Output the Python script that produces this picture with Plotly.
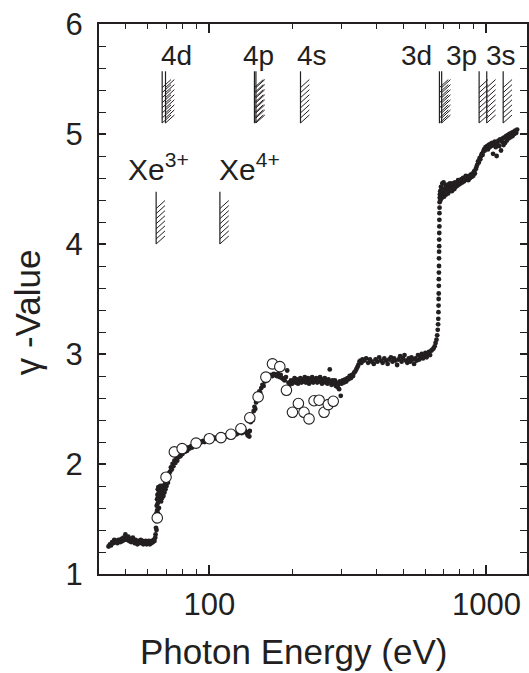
import math
import plotly.graph_objects as go

# ---------------- data ----------------
# small filled dots: pre-4d plateau
pre4d_E = [43.3, 43.8, 44.2, 44.6, 45.0, 45.4, 45.8, 46.2, 46.6, 47.0, 47.4, 47.8, 48.2, 48.6, 49.0, 49.4,
           49.8, 50.2, 50.6, 51.0, 51.4, 51.8, 52.2, 52.6, 53.0, 53.4, 53.8, 54.2, 54.6, 55.0, 55.4, 55.8,
           56.2, 56.6, 57.0, 57.4, 57.8, 58.2, 58.6, 59.0, 59.4, 59.8, 60.2, 60.6, 61.0, 61.4, 61.8, 62.2,
           62.6, 63.0, 63.4, 63.8]
pre4d_G = [1.25, 1.27, 1.26, 1.29, 1.28, 1.31, 1.29, 1.30, 1.28, 1.31, 1.30, 1.29, 1.32, 1.30, 1.33, 1.31,
           1.36, 1.33, 1.31, 1.34, 1.30, 1.32, 1.29, 1.31, 1.33, 1.30, 1.28, 1.31, 1.29, 1.27, 1.30, 1.28,
           1.29, 1.31, 1.28, 1.30, 1.27, 1.29, 1.28, 1.30, 1.27, 1.29, 1.28, 1.30, 1.27, 1.29, 1.28, 1.30,
           1.29, 1.31, 1.30, 1.33]
# 4d edge
edge4d_E = [64.0, 64.2, 64.3, 64.4, 64.5, 64.6, 64.7, 64.8, 64.9, 65.0, 65.1, 65.2, 65.3, 65.4, 65.5, 65.6,
            65.7, 65.8, 65.9, 66.0, 66.2, 66.4, 66.6, 66.8, 67.0, 67.2, 67.4, 67.6, 67.8, 68.0, 68.3, 68.6,
            68.9, 69.2, 69.5, 69.8, 70.1, 70.5, 70.9, 71.3, 71.7]
edge4d_G = [1.36, 1.42, 1.48, 1.55, 1.40, 1.62, 1.50, 1.68, 1.58, 1.72, 1.64, 1.77, 1.55, 1.70, 1.79, 1.66,
            1.74, 1.60, 1.78, 1.70, 1.75, 1.68, 1.80, 1.72, 1.66, 1.78, 1.73, 1.69, 1.80, 1.75, 1.71, 1.78,
            1.74, 1.82, 1.77, 1.84, 1.80, 1.86, 1.83, 1.90, 1.92]
# between 4d and 4p
mid_E = [72.2, 72.7, 73.2, 73.7, 74.2, 74.8, 75.4, 76.0, 76.6, 77.2, 77.9, 78.6, 79.3, 80.0, 80.8, 81.6,
         82.4, 83.2, 84.0, 84.9, 85.8, 86.7, 87.6, 88.6, 89.6, 90.6, 91.7, 92.8, 93.9, 95.0, 96.2, 97.4,
         98.6, 99.8, 101.0, 102.3, 103.6, 105.0, 106.4, 107.8, 109.2, 110.7, 112.2, 113.7, 115.3, 116.9,
         118.5, 120.2, 121.9, 123.6, 125.4, 127.2, 129.0, 130.9, 132.8, 134.7, 136.4, 137.6, 138.6, 139.4]
mid_G = [1.93, 1.97, 1.95, 2.00, 1.98, 2.03, 2.01, 2.05, 2.03, 2.06, 2.08, 2.07, 2.10, 2.09, 2.12, 2.11,
         2.13, 2.12, 2.15, 2.14, 2.16, 2.15, 2.17, 2.17, 2.18, 2.19, 2.18, 2.20, 2.20, 2.21, 2.20, 2.22,
         2.21, 2.22, 2.23, 2.22, 2.23, 2.24, 2.23, 2.24, 2.25, 2.24, 2.25, 2.26, 2.25, 2.26,
         2.27, 2.26, 2.27, 2.28, 2.27, 2.28, 2.29, 2.28, 2.29, 2.30, 2.28, 2.26, 2.29, 2.25]
# 4p edge and 4s region
edge4p_E = [140, 141, 142, 143.5, 144.5, 145.5, 146.5, 147.5, 148.5, 149.5, 150.5, 151.5, 152.5, 154, 155.5,
            157, 158.5, 160, 161.5, 163, 165, 167, 169, 171, 173, 175, 177, 179, 181, 183, 185, 187, 189,
            191, 193, 195, 197, 199]
edge4p_G = [2.30, 2.38, 2.44, 2.40, 2.48, 2.52, 2.50, 2.56, 2.60, 2.58, 2.63, 2.66, 2.65, 2.69, 2.72,
            2.71, 2.75, 2.77, 2.76, 2.79, 2.80, 2.81, 2.80, 2.82, 2.81, 2.80, 2.82, 2.79, 2.81, 2.78, 2.77,
            2.76, 2.79, 2.85, 2.74, 2.72, 2.76, 2.73]
plat4s_E = [201, 203, 205, 207, 209, 211, 213, 215, 217, 219, 221, 223, 225, 227, 229, 231, 233, 235, 237,
            239, 241, 243, 245, 247, 249, 251, 253, 255, 257, 259, 261, 263, 265, 267, 269, 272, 274, 276,
            278, 280, 282, 284, 286, 288, 290, 292, 294, 296, 298]
plat4s_G = [2.75, 2.78, 2.74, 2.77, 2.73, 2.76, 2.78, 2.74, 2.77, 2.75, 2.79, 2.74, 2.76, 2.78, 2.73, 2.77,
            2.75, 2.79, 2.74, 2.77, 2.76, 2.78, 2.74, 2.77, 2.75, 2.79, 2.76, 2.73, 2.77, 2.75, 2.78, 2.74,
            2.76, 2.73, 2.77, 2.86, 2.75, 2.72, 2.76, 2.74, 2.73, 2.76, 2.71, 2.74, 2.70, 2.72, 2.68, 2.75,
            2.62]
rise_E = [300, 303, 306, 309, 312, 315, 318, 321, 324, 327, 330, 333, 336, 339, 342, 345, 348, 351, 354, 357]
rise_G = [2.73, 2.76, 2.74, 2.77, 2.75, 2.78, 2.77, 2.80, 2.78, 2.81, 2.80, 2.83, 2.84, 2.86, 2.88, 2.90,
          2.93, 2.94, 2.92, 2.95]
pre3d_E = [362, 368, 374, 380, 386, 392, 398, 404, 410, 416, 422, 428, 434, 440, 446, 452, 458, 464, 470,
           476, 482, 488, 494, 500, 506, 512, 518, 524, 530, 536, 542, 548, 554, 560, 566, 572, 578, 584,
           590, 596, 602, 608, 614, 620, 626, 632, 638, 644, 650, 655]
pre3d_G = [2.94, 2.96, 2.92, 2.95, 2.93, 2.91, 2.95, 2.93, 2.97, 2.94, 2.92, 2.96, 2.94, 2.91, 2.95, 2.97,
           2.93, 2.96, 2.94, 2.90, 2.95, 2.98, 2.93, 2.96, 2.99, 2.94, 2.92, 2.96, 2.93, 2.97, 2.95, 2.91,
           2.96, 2.94, 2.99, 2.95, 2.97, 3.00, 2.96, 2.98, 3.01, 2.97, 3.00, 3.02, 2.99, 3.03, 3.04, 3.05,
           3.07, 3.10]
edge3d_E = [660, 664, 667, 669, 670, 671, 671.5, 672, 672.5, 673, 673, 673.5, 674, 674, 674.5, 675, 675,
            675.5, 676, 676, 676.5, 677, 677.5, 678, 679]
edge3d_G = [3.13, 3.17, 3.22, 3.27, 3.32, 3.38, 3.44, 3.50, 3.55, 3.62, 3.68, 3.74, 3.80, 3.87, 3.93, 3.98,
            4.04, 4.10, 4.16, 4.22, 4.28, 4.33, 4.38, 4.42, 4.45]
plat3d_E = [681, 683, 685, 687, 689, 691, 693, 695, 697, 700, 703, 706, 709, 712, 715, 718, 721, 724, 727,
            730, 734, 738, 742, 746, 750, 754, 758, 762, 766, 770, 775, 780, 785, 790, 795, 800, 806, 812,
            818, 824, 830, 836, 842, 848, 854, 860, 866, 872, 878, 884, 890, 896, 902, 908, 914]
plat3d_G = [4.48, 4.40, 4.52, 4.44, 4.50, 4.42, 4.55, 4.46, 4.49, 4.56, 4.43, 4.50, 4.47, 4.53, 4.45, 4.51,
            4.48, 4.54, 4.46, 4.52, 4.49, 4.55, 4.50, 4.53, 4.48, 4.55, 4.51, 4.54, 4.50, 4.56, 4.52, 4.55,
            4.53, 4.58, 4.54, 4.57, 4.55, 4.59, 4.56, 4.60, 4.57, 4.58, 4.62, 4.59, 4.61, 4.58, 4.62, 4.60,
            4.63, 4.61, 4.64, 4.62, 4.66, 4.64, 4.68]
high_E = [920, 926, 932, 938, 944, 950, 956, 962, 968, 974, 980, 986, 992, 998, 1005, 1012, 1019, 1026,
          1033, 1040, 1048, 1056, 1064, 1072, 1080, 1088, 1096, 1104, 1112, 1120, 1128, 1136, 1144, 1152,
          1160, 1168, 1176, 1184, 1192, 1200, 1210, 1220, 1230, 1240, 1250, 1260, 1270, 1280, 1290]
high_G = [4.70, 4.72, 4.75, 4.74, 4.78, 4.77, 4.80, 4.82, 4.81, 4.84, 4.86, 4.85, 4.88, 4.87, 4.89, 4.86,
          4.90, 4.88, 4.91, 4.89, 4.92, 4.82, 4.90, 4.93, 4.88, 4.80, 4.91, 4.94, 4.89, 4.95, 4.85, 4.93,
          4.96, 4.90, 4.97, 4.92, 4.98, 4.94, 4.99, 4.96, 5.00, 4.97, 5.01, 4.98, 5.02, 5.00, 5.03, 5.01,
          5.04]

# open circles
circ_E = [64.9, 69.8, 74.8, 79.8, 89.6, 100.0, 110.2, 119.7, 130.0, 140.0, 150.0, 160.0, 169.0, 179.6,
          189.8, 199.5, 209.6, 219.6, 229.0, 238.7, 249.0, 259.4, 268.6, 280.0]
circ_G = [1.51, 1.88, 2.11, 2.14, 2.19, 2.23, 2.24, 2.27, 2.32, 2.42, 2.61, 2.79, 2.91, 2.885,
          2.67, 2.47, 2.55, 2.47, 2.41, 2.575, 2.58, 2.47, 2.54, 2.57]

# edge markers
shell_edge_E = [67.6, 69.5, 145.5, 147.3, 213.3, 676.4, 689.0, 940.6, 1002.0, 1148.7]
shell_edge_y = [5.10, 5.57]
ion_edge_E = [64.3, 109.2]
ion_edge_y = [4.00, 4.475]
shell_labels = ["4d", "4p", "4s", "3d", "3p", "3s"]
shell_label_E = [76.3, 150.3, 235.3, 561.0, 811.0, 1130.0]
shell_label_y = 5.71
ion_labels = ["Xe<sup>3+</sup>", "Xe<sup>4+</sup>"]
ion_label_E = [65.8, 139.3]
ion_label_y = 4.70

x_ticks = [100, 1000]
x_minor = [50, 60, 70, 80, 90, 200, 300, 400, 500, 600, 700, 800, 900]
y_ticks = [1, 2, 3, 4, 5, 6]
x_title = "Photon Energy (eV)"
y_title = "γ -Value"

# ---------------- figure ----------------
INK = "#231f20"
FONT = "Liberation Sans, Arial, Helvetica, sans-serif"

dots_E = pre4d_E + edge4d_E + mid_E + edge4p_E + plat4s_E + rise_E + pre3d_E + edge3d_E + plat3d_E + high_E
dots_G = pre4d_G + edge4d_G + mid_G + edge4p_G + plat4s_G + rise_G + pre3d_G + edge3d_G + plat3d_G + high_G

fig = go.Figure()
fig.add_trace(go.Scatter(x=dots_E, y=dots_G, mode="markers",
                         marker=dict(size=4.8, color=INK, line=dict(width=0)),
                         showlegend=False, hoverinfo="skip"))
fig.add_trace(go.Scatter(x=circ_E, y=circ_G, mode="markers",
                         marker=dict(size=10.5, color="white", line=dict(color=INK, width=1.1)),
                         showlegend=False, hoverinfo="skip"))

HATCH_W = 0.032   # decades
HATCH_RISE = 0.073
HATCH_STEP = 0.046
N_HATCH = 8


def edge_marker(energies, yrange):
    vx, vy, hx, hy = [], [], [], []
    for e in energies:
        vx += [e, e, None]
        vy += [yrange[0], yrange[1], None]
        for k in range(N_HATCH):
            y0 = yrange[0] + k * HATCH_STEP
            hx += [e, e * 10 ** HATCH_W, None]
            hy += [y0, y0 + HATCH_RISE, None]
    return vx, vy, hx, hy


for energies, yr in [(shell_edge_E, shell_edge_y), (ion_edge_E, ion_edge_y)]:
    vx, vy, hx, hy = edge_marker(energies, yr)
    fig.add_trace(go.Scatter(x=vx, y=vy, mode="lines", line=dict(color=INK, width=1.2),
                             showlegend=False, hoverinfo="skip"))
    fig.add_trace(go.Scatter(x=hx, y=hy, mode="lines", line=dict(color=INK, width=1.0),
                             showlegend=False, hoverinfo="skip"))

for t, e in zip(shell_labels, shell_label_E):
    fig.add_annotation(x=math.log10(e), y=shell_label_y, text=t, showarrow=False,
                       xanchor="center", yanchor="middle",
                       font=dict(family=FONT, size=28, color=INK))
for t, e in zip(ion_labels, ion_label_E):
    fig.add_annotation(x=math.log10(e), y=ion_label_y, text=t, showarrow=False,
                       xanchor="center", yanchor="middle",
                       font=dict(family=FONT, size=30, color=INK))

# axis titles (placed as paper-referenced annotations to match the reference offsets)
fig.add_annotation(xref="paper", yref="paper", x=0.4556, y=-0.140, text=x_title, showarrow=False,
                   xanchor="center", yanchor="middle", font=dict(family=FONT, size=35, color=INK))
fig.add_annotation(xref="paper", yref="paper", x=-0.168, y=0.476, text=y_title, showarrow=False,
                   textangle=-90, xanchor="center", yanchor="middle",
                   font=dict(family=FONT, size=35, color=INK))

axis_common = dict(showline=True, linewidth=2, linecolor=INK, mirror="allticks",
                   ticks="inside", tickcolor=INK, showgrid=False, zeroline=False,
                   automargin=False,
                   tickfont=dict(family=FONT, size=31, color=INK))

fig.update_xaxes(type="log", range=[math.log10(40), math.log10(1400)],
                 tickvals=x_ticks, ticktext=[str(v) for v in x_ticks],
                 ticklen=9, tickwidth=1.5, ticklabelstandoff=2,
                 minor=dict(tickvals=x_minor, ticks="inside", ticklen=5, tickwidth=1.2, tickcolor=INK,
                            showgrid=False),
                 **axis_common)
fig.update_yaxes(range=[1, 6], tickvals=y_ticks, ticktext=[str(v) for v in y_ticks],
                 ticklen=7, tickwidth=1.5, ticklabelstandoff=8,
                 minor=dict(dtick=0.2, ticks="inside", ticklen=7, tickwidth=1.2, tickcolor=INK,
                            showgrid=False),
                 **axis_common)

fig.update_layout(width=529, height=673, autosize=False,
                  margin=dict(l=99, r=2, t=24, b=99),
                  paper_bgcolor="white", plot_bgcolor="white",
                  showlegend=False)

fig.write_html("out.html", config={"displayModeBar": False},
               post_script="document.body.style.margin='0';document.body.style.overflow='hidden';")
